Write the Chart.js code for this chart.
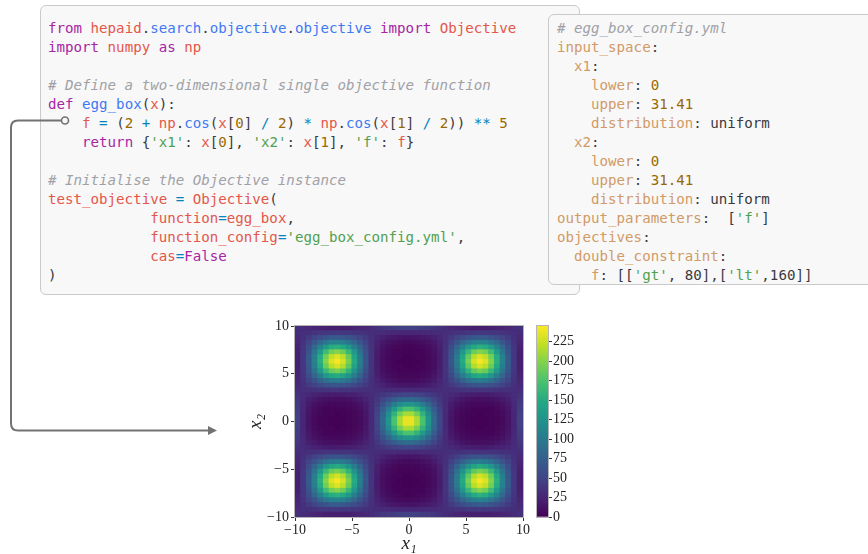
<!DOCTYPE html>
<html>
<head>
<meta charset="utf-8">
<script src="https://cdn.jsdelivr.net/npm/chart.js@4.4.0/dist/chart.umd.min.js"></script>
<style>
  html, body { margin: 0; padding: 0; background: #fff; width: 868px; height: 554px; overflow: hidden; }
  body { position: relative; }
  .box { position: absolute; background: #f8f8f8; border: 1px solid #cacaca; border-radius: 6px; box-sizing: border-box; }
  .code { position: absolute; font-family: 'DejaVu Sans Mono', monospace; font-size: 14.15px; color: #383a42; }
  .ln { height: 19px; line-height: 19px; white-space: pre; }
  .k { color: #a626a4; }
  .r { color: #e45649; }
  .b { color: #4078f2; }
  .n { color: #986801; }
  .o { color: #0184bc; }
  .s { color: #50a14f; }
  .c { color: #a0a1a7; font-style: italic; }
  .y { color: #d19a66; }
  canvas { position: absolute; }
  svg { position: absolute; left: 0; top: 0; }
</style>
</head>
<body>

<div class="box" style="left:40px; top:5px; width:540px; height:290px;">
  <div class="code" style="left:7px; top:12.5px;">
    <div class="ln"><span class="k">from</span> <span class="r">hepaid</span><span>.</span><span class="b">search</span><span>.</span><span class="b">objective</span><span>.</span><span class="b">objective</span> <span class="k">import</span> <span class="r">Objective</span></div>
    <div class="ln"><span class="k">import</span> <span class="r">numpy</span> <span class="k">as</span> <span class="r">np</span></div>
    <div class="ln"></div>
    <div class="ln"><span class="c"># Define a two-dimensional single objective function</span></div>
    <div class="ln"><span class="k">def</span> <span class="b">egg_box</span><span>(</span><span class="r">x</span><span>):</span></div>
    <div class="ln">    <span class="r">f</span> <span class="o">=</span> <span>(</span><span class="n">2</span> <span class="o">+</span> <span class="r">np</span><span>.</span><span class="b">cos</span><span>(</span><span class="r">x</span><span>[</span><span class="n">0</span><span>]</span> <span class="o">/</span> <span class="n">2</span><span>)</span> <span class="o">*</span> <span class="r">np</span><span>.</span><span class="b">cos</span><span>(</span><span class="r">x</span><span>[</span><span class="n">1</span><span>]</span> <span class="o">/</span> <span class="n">2</span><span>))</span> <span class="o">**</span> <span class="n">5</span></div>
    <div class="ln">    <span class="k">return</span> <span>{</span><span class="s">'x1'</span><span>:</span> <span class="r">x</span><span>[</span><span class="n">0</span><span>],</span> <span class="s">'x2'</span><span>:</span> <span class="r">x</span><span>[</span><span class="n">1</span><span>],</span> <span class="s">'f'</span><span>:</span> <span class="r">f</span><span>}</span></div>
    <div class="ln"></div>
    <div class="ln"><span class="c"># Initialise the Objective instance</span></div>
    <div class="ln"><span class="r">test_objective</span> <span class="o">=</span> <span class="r">Objective</span><span>(</span></div>
    <div class="ln">            <span class="r">function</span><span class="o">=</span><span class="r">egg_box</span><span>,</span></div>
    <div class="ln">            <span class="r">function_config</span><span class="o">=</span><span class="s">'egg_box_config.yml'</span><span>,</span></div>
    <div class="ln">            <span class="r">cas</span><span class="o">=</span><span class="k">False</span></div>
    <div class="ln"><span>)</span></div>
  </div>
</div>

<div class="box" style="left:548px; top:14px; width:340px; height:271px;">
  <div class="code" style="left:8px; top:3.5px;">
    <div class="ln"><span class="c"># egg_box_config.yml</span></div>
    <div class="ln"><span class="y">input_space</span><span>:</span></div>
    <div class="ln">  <span class="y">x1</span><span>:</span></div>
    <div class="ln">    <span class="y">lower</span><span>:</span> <span class="n">0</span></div>
    <div class="ln">    <span class="y">upper</span><span>:</span> <span class="n">31.41</span></div>
    <div class="ln">    <span class="y">distribution</span><span>:</span> <span>uniform</span></div>
    <div class="ln">  <span class="y">x2</span><span>:</span></div>
    <div class="ln">    <span class="y">lower</span><span>:</span> <span class="n">0</span></div>
    <div class="ln">    <span class="y">upper</span><span>:</span> <span class="n">31.41</span></div>
    <div class="ln">    <span class="y">distribution</span><span>:</span> <span>uniform</span></div>
    <div class="ln"><span class="y">output_parameters</span><span>:</span>  <span>[</span><span class="s">'f'</span><span>]</span></div>
    <div class="ln"><span class="y">objectives</span><span>:</span></div>
    <div class="ln">  <span class="y">double_constraint</span><span>:</span></div>
    <div class="ln">    <span class="y">f</span><span>:</span> <span>[[</span><span class="s">'gt'</span><span>, 80],[</span><span class="s">'lt'</span><span>,160]]</span></div>
  </div>
</div>

<svg width="868" height="554">
  <path d="M 61 120.5 H 18 Q 11 120.5 11 127.5 V 423.5 Q 11 430.5 18 430.5 H 209" fill="none" stroke="#727272" stroke-width="2"/>
  <polygon points="208,426 217,430.5 208,435" fill="#727272"/>
  <circle cx="65" cy="120.5" r="3.5" fill="#f8f8f8" stroke="#727272" stroke-width="1.6"/>
</svg>

<canvas id="mapChart" width="300" height="244" style="left:240px; top:310px;"></canvas>
<canvas id="cbarChart" width="60" height="244" style="left:530px; top:310px;"></canvas>

<script>
// Grid cell centres (x1 and x2), each cell is 0.5 wide
const xCenters = [-9.75, -9.25, -8.75, -8.25, -7.75, -7.25, -6.75, -6.25, -5.75, -5.25,
                  -4.75, -4.25, -3.75, -3.25, -2.75, -2.25, -1.75, -1.25, -0.75, -0.25,
                  0.25, 0.75, 1.25, 1.75, 2.25, 2.75, 3.25, 3.75, 4.25, 4.75,
                  5.25, 5.75, 6.25, 6.75, 7.25, 7.75, 8.25, 8.75, 9.25, 9.75];
const yCenters = [-9.75, -9.25, -8.75, -8.25, -7.75, -7.25, -6.75, -6.25, -5.75, -5.25,
                  -4.75, -4.25, -3.75, -3.25, -2.75, -2.25, -1.75, -1.25, -0.75, -0.25,
                  0.25, 0.75, 1.25, 1.75, 2.25, 2.75, 3.25, 3.75, 4.25, 4.75,
                  5.25, 5.75, 6.25, 6.75, 7.25, 7.75, 8.25, 8.75, 9.25, 9.75];

// f values, one row per yCenters entry (bottom to top)
const zValues = [
  [34,31,28,25,23,22,21,21,21,22,24,26,28,31,35,38,41,44,46,47, 47,46,44,41,38,35,31,28,26,24,22,21,21,21,22,23,25,28,31,34],
  [31,33,34,36,38,39,39,40,39,39,37,36,34,32,31,29,28,27,26,26, 26,26,27,28,29,31,32,34,36,37,39,39,40,39,39,38,36,34,33,31],
  [28,34,42,50,57,63,68,69,67,63,56,49,41,33,27,22,18,16,14,13, 13,14,16,18,22,27,33,41,49,56,63,67,69,68,63,57,50,42,34,28],
  [25,36,50,65,82,96,106,109,105,94,79,63,48,34,24,17,12,9,7,6, 6,7,9,12,17,24,34,48,63,79,94,105,109,106,96,82,65,50,36,25],
  [23,38,57,82,108,133,150,155,148,130,105,78,54,35,22,13,8,5,4,3, 3,4,5,8,13,22,35,54,78,105,130,148,155,150,133,108,82,57,38,23],
  [22,39,63,96,133,167,192,200,189,163,128,91,60,36,20,11,6,3,2,2, 2,2,3,6,11,20,36,60,91,128,163,189,200,192,167,133,96,63,39,22],
  [21,39,68,106,150,192,222,232,219,187,144,100,63,36,19,10,5,3,2,1, 1,2,3,5,10,19,36,63,100,144,187,219,232,222,192,150,106,68,39,21],
  [21,40,69,109,155,200,232,243,229,195,149,103,64,37,19,10,5,2,1,1, 1,1,2,5,10,19,37,64,103,149,195,229,243,232,200,155,109,69,40,21],
  [21,39,67,105,148,189,219,229,216,184,142,99,63,36,20,10,5,3,2,1, 1,2,3,5,10,20,36,63,99,142,184,216,229,219,189,148,105,67,39,21],
  [22,39,63,94,130,163,187,195,184,159,125,90,59,36,21,11,6,4,2,2, 2,2,4,6,11,21,36,59,90,125,159,184,195,187,163,130,94,63,39,22],
  [24,37,56,79,105,128,144,149,142,125,101,76,53,35,22,14,9,6,4,4, 4,4,6,9,14,22,35,53,76,101,125,142,149,144,128,105,79,56,37,24],
  [26,36,49,63,78,91,100,103,99,90,76,61,47,34,25,18,13,10,8,7, 7,8,10,13,18,25,34,47,61,76,90,99,103,100,91,78,63,49,36,26],
  [28,34,41,48,54,60,63,64,63,59,53,47,40,33,28,23,19,17,15,14, 14,15,17,19,23,28,33,40,47,53,59,63,64,63,60,54,48,41,34,28],
  [31,32,33,34,35,36,36,37,36,36,35,34,33,32,31,30,29,29,28,28, 28,28,29,29,30,31,32,33,34,35,36,36,37,36,36,35,34,33,32,31],
  [35,31,27,24,22,20,19,19,20,21,22,25,28,31,35,39,43,47,49,51, 51,49,47,43,39,35,31,28,25,22,21,20,19,19,20,22,24,27,31,35],
  [38,29,22,17,13,11,10,10,10,11,14,18,23,30,39,50,61,72,80,84, 84,80,72,61,50,39,30,23,18,14,11,10,10,10,11,13,17,22,29,38],
  [41,28,18,12,8,6,5,5,5,6,9,13,19,29,43,61,81,102,118,127, 127,118,102,81,61,43,29,19,13,9,6,5,5,5,6,8,12,18,28,41],
  [44,27,16,9,5,3,3,2,3,4,6,10,17,29,47,72,102,133,159,174, 174,159,133,102,72,47,29,17,10,6,4,3,2,3,3,5,9,16,27,44],
  [46,26,14,7,4,2,2,1,2,2,4,8,15,28,49,80,118,159,193,213, 213,193,159,118,80,49,28,15,8,4,2,2,1,2,2,4,7,14,26,46],
  [47,26,13,6,3,2,1,1,1,2,4,7,14,28,51,84,127,174,213,237, 237,213,174,127,84,51,28,14,7,4,2,1,1,1,2,3,6,13,26,47],
  [47,26,13,6,3,2,1,1,1,2,4,7,14,28,51,84,127,174,213,237, 237,213,174,127,84,51,28,14,7,4,2,1,1,1,2,3,6,13,26,47],
  [46,26,14,7,4,2,2,1,2,2,4,8,15,28,49,80,118,159,193,213, 213,193,159,118,80,49,28,15,8,4,2,2,1,2,2,4,7,14,26,46],
  [44,27,16,9,5,3,3,2,3,4,6,10,17,29,47,72,102,133,159,174, 174,159,133,102,72,47,29,17,10,6,4,3,2,3,3,5,9,16,27,44],
  [41,28,18,12,8,6,5,5,5,6,9,13,19,29,43,61,81,102,118,127, 127,118,102,81,61,43,29,19,13,9,6,5,5,5,6,8,12,18,28,41],
  [38,29,22,17,13,11,10,10,10,11,14,18,23,30,39,50,61,72,80,84, 84,80,72,61,50,39,30,23,18,14,11,10,10,10,11,13,17,22,29,38],
  [35,31,27,24,22,20,19,19,20,21,22,25,28,31,35,39,43,47,49,51, 51,49,47,43,39,35,31,28,25,22,21,20,19,19,20,22,24,27,31,35],
  [31,32,33,34,35,36,36,37,36,36,35,34,33,32,31,30,29,29,28,28, 28,28,29,29,30,31,32,33,34,35,36,36,37,36,36,35,34,33,32,31],
  [28,34,41,48,54,60,63,64,63,59,53,47,40,33,28,23,19,17,15,14, 14,15,17,19,23,28,33,40,47,53,59,63,64,63,60,54,48,41,34,28],
  [26,36,49,63,78,91,100,103,99,90,76,61,47,34,25,18,13,10,8,7, 7,8,10,13,18,25,34,47,61,76,90,99,103,100,91,78,63,49,36,26],
  [24,37,56,79,105,128,144,149,142,125,101,76,53,35,22,14,9,6,4,4, 4,4,6,9,14,22,35,53,76,101,125,142,149,144,128,105,79,56,37,24],
  [22,39,63,94,130,163,187,195,184,159,125,90,59,36,21,11,6,4,2,2, 2,2,4,6,11,21,36,59,90,125,159,184,195,187,163,130,94,63,39,22],
  [21,39,67,105,148,189,219,229,216,184,142,99,63,36,20,10,5,3,2,1, 1,2,3,5,10,20,36,63,99,142,184,216,229,219,189,148,105,67,39,21],
  [21,40,69,109,155,200,232,243,229,195,149,103,64,37,19,10,5,2,1,1, 1,1,2,5,10,19,37,64,103,149,195,229,243,232,200,155,109,69,40,21],
  [21,39,68,106,150,192,222,232,219,187,144,100,63,36,19,10,5,3,2,1, 1,2,3,5,10,19,36,63,100,144,187,219,232,222,192,150,106,68,39,21],
  [22,39,63,96,133,167,192,200,189,163,128,91,60,36,20,11,6,3,2,2, 2,2,3,6,11,20,36,60,91,128,163,189,200,192,167,133,96,63,39,22],
  [23,38,57,82,108,133,150,155,148,130,105,78,54,35,22,13,8,5,4,3, 3,4,5,8,13,22,35,54,78,105,130,148,155,150,133,108,82,57,38,23],
  [25,36,50,65,82,96,106,109,105,94,79,63,48,34,24,17,12,9,7,6, 6,7,9,12,17,24,34,48,63,79,94,105,109,106,96,82,65,50,36,25],
  [28,34,42,50,57,63,68,69,67,63,56,49,41,33,27,22,18,16,14,13, 13,14,16,18,22,27,33,41,49,56,63,67,69,68,63,57,50,42,34,28],
  [31,33,34,36,38,39,39,40,39,39,37,36,34,32,31,29,28,27,26,26, 26,26,27,28,29,31,32,34,36,37,39,39,40,39,39,38,36,34,33,31],
  [34,31,28,25,23,22,21,21,21,22,24,26,28,31,35,38,41,44,46,47, 47,46,44,41,38,35,31,28,26,24,22,21,21,21,22,23,25,28,31,34]
];

const xTicks = [-10, -5, 0, 5, 10];
const yTicks = [-10, -5, 0, 5, 10];
const axisRange = [-10, 10];
const cbarTicks = [0, 25, 50, 75, 100, 125, 150, 175, 200, 225];
const cbarRange = [0, 245];

// viridis key colours
const viridisStops = ['#440154', '#482475', '#414487', '#355f8d', '#2a788e', '#21918c',
                      '#22a884', '#44bf70', '#7ad151', '#bddf26', '#fde725'];

function hexToRgb(h) {
  return [1, 3, 5].map(i => parseInt(h.slice(i, i + 2), 16));
}

function viridis(t) {
  t = Math.max(0, Math.min(1, t));
  const s = t * (viridisStops.length - 1);
  const i = Math.min(Math.floor(s), viridisStops.length - 2);
  const f = s - i;
  const a = hexToRgb(viridisStops[i]);
  const b = hexToRgb(viridisStops[i + 1]);
  return 'rgb(' + a.map((v, k) => Math.round(v + (b[k] - v) * f)).join(',') + ')';
}

function tickText(v) {
  return v < 0 ? '\u2212' + Math.abs(v) : String(v);
}

// thin grey frame round the chart area
const framePlugin = {
  id: 'frame',
  afterDatasetsDraw(chart) {
    const {ctx, chartArea: a} = chart;
    ctx.save();
    ctx.strokeStyle = '#b4b4b4';
    ctx.lineWidth = 1;
    ctx.strokeRect(Math.round(a.left) - 0.5, Math.round(a.top) - 0.5,
                   Math.round(a.right - a.left) + 1, Math.round(a.bottom - a.top) + 1);
    ctx.restore();
  }
};

const tickFont = { family: "'Liberation Serif', 'DejaVu Serif', serif", size: 14 };
const labelFont = { family: "'Liberation Serif', 'DejaVu Serif', serif", size: 19, style: 'italic' };

// ========== HEAT MAP ==========
// cells are drawn a little oversized so neighbours overlap and no seams show
const overlap = 1.2;
const halfY = (yCenters[1] - yCenters[0]) / 2 * overlap;

const mapDatasets = zValues.map((row, r) => ({
  data: xCenters.map(x => ({ x: x, y: [yCenters[r] - halfY, yCenters[r] + halfY] })),
  backgroundColor: row.map(z => viridis((z - cbarRange[0]) / (cbarRange[1] - cbarRange[0]))),
  borderWidth: 0,
  grouped: false,
  barPercentage: overlap,
  categoryPercentage: 1,
  clip: 0
}));

new Chart(document.getElementById('mapChart'), {
  type: 'bar',
  data: { datasets: mapDatasets },
  options: {
    responsive: false,
    animation: false,
    layout: { padding: { left: 0, right: 17, top: 16, bottom: 0 } },
    plugins: { legend: { display: false }, tooltip: { enabled: false } },
    scales: {
      x: {
        type: 'linear',
        min: axisRange[0],
        max: axisRange[1],
        offset: false,
        afterBuildTicks: s => { s.ticks = xTicks.map(v => ({ value: v })); },
        afterFit: s => { s.height = 37; },
        ticks: { callback: tickText, color: '#222', font: tickFont, padding: 1, maxRotation: 0 },
        grid: { display: true, offset: false, drawOnChartArea: false, drawTicks: true, tickLength: 4, color: '#333' },
        border: { display: false },
        title: { display: true, text: 'x\u2081', font: labelFont, color: '#222', padding: { top: 0, bottom: -1 } }
      },
      y: {
        type: 'linear',
        min: axisRange[0],
        max: axisRange[1],
        afterBuildTicks: s => { s.ticks = yTicks.map(v => ({ value: v })); },
        afterFit: s => { s.width = 55; },
        ticks: { callback: tickText, color: '#222', font: tickFont, padding: 2 },
        grid: { display: true, drawOnChartArea: false, drawTicks: true, tickLength: 4, color: '#333' },
        border: { display: false },
        title: { display: true, text: 'x\u2082', font: labelFont, color: '#222', padding: { top: 5, bottom: 0 } }
      }
    }
  },
  plugins: [framePlugin]
});

// ========== COLOUR BAR ==========
new Chart(document.getElementById('cbarChart'), {
  type: 'bar',
  data: {
    labels: ['f'],
    datasets: [{
      data: [cbarRange],
      backgroundColor: c => {
        const {ctx, chartArea, scales} = c.chart;
        if (!chartArea) return viridisStops[0];
        const g = ctx.createLinearGradient(0, scales.y.getPixelForValue(cbarRange[0]), 0, scales.y.getPixelForValue(cbarRange[1]));
        viridisStops.forEach((col, i) => g.addColorStop(i / (viridisStops.length - 1), col));
        return g;
      },
      borderWidth: 0,
      barPercentage: 1,
      categoryPercentage: 1
    }]
  },
  options: {
    responsive: false,
    animation: false,
    layout: { padding: { left: 7, right: 0, top: 16, bottom: 37 } },
    plugins: { legend: { display: false }, tooltip: { enabled: false } },
    scales: {
      x: { display: false },
      y: {
        position: 'right',
        min: cbarRange[0],
        max: cbarRange[1],
        afterBuildTicks: s => { s.ticks = cbarTicks.map(v => ({ value: v })); },
        afterFit: s => { s.width = 42; },
        ticks: { color: '#222', font: tickFont, padding: 1 },
        grid: { display: true, drawOnChartArea: false, drawTicks: true, tickLength: 4, color: '#333' },
        border: { display: false }
      }
    }
  },
  plugins: [framePlugin]
});
</script>
</body>
</html>
